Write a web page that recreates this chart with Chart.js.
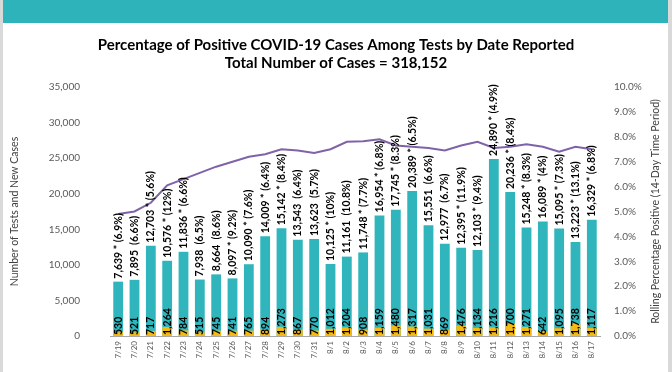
<!DOCTYPE html>
<html><head><meta charset="utf-8">
<script src="https://cdn.jsdelivr.net/npm/chart.js@4.4.1/dist/chart.umd.min.js"></script>
<style>
html,body{margin:0;padding:0;background:#fff;}
#wrap{position:relative;width:672px;height:372px;overflow:hidden;background:#fff;}
#band{position:absolute;left:0;top:0;width:672px;height:23px;background:#2fb3bb;}
#lb{position:absolute;left:0;top:0;width:3px;height:372px;background:#d9d9d9;}
#rb{position:absolute;right:0;top:0;width:4px;height:372px;background:#d9d9d9;}
canvas{position:absolute;left:0;top:0;}
</style></head>
<body><div id="wrap"><canvas id="c" width="672" height="372"></canvas><div id="band"></div><div id="lb"></div><div id="rb"></div></div>
<script>
const dates = ["7/19","7/20","7/21","7/22","7/23","7/24","7/25","7/26","7/27","7/28","7/29","7/30","7/31","8/1","8/2","8/3","8/4","8/5","8/6","8/7","8/8","8/9","8/10","8/11","8/12","8/13","8/14","8/15","8/16","8/17"];
const tests = [7639,7895,12703,10576,11836,7938,8664,8097,10090,14009,15142,13543,13623,10125,11161,11748,16954,17745,20389,15551,12977,12395,12103,24890,20236,15248,16089,15095,13223,16329];
const newCases = [530,521,717,1264,784,515,745,741,765,894,1273,867,770,1012,1204,908,1159,1480,1317,1031,869,1476,1134,1216,1700,1271,642,1095,1738,1117];
const dailyPct = ["6.9","6.6","5.6","12","6.6","6.5","8.6","9.2","7.6","6.4","8.4","6.4","5.7","10","10.8","7.7","6.8","8.3","6.5","6.6","6.7","11.9","9.4","4.9","8.4","8.3","4","7.3","13.1","6.8"];
const starred = [1,0,1,1,1,0,0,1,1,1,1,0,0,1,0,1,1,1,1,0,0,1,1,1,1,1,1,1,1,1];
const rolling = [4.9,5.0,5.35,6.05,6.3,6.55,6.8,7.0,7.2,7.3,7.5,7.45,7.35,7.5,7.8,7.82,7.9,7.65,7.6,7.55,7.45,7.65,7.8,7.55,7.6,7.7,7.6,7.4,7.6,7.5];
const yTicksLeft = [0,5000,10000,15000,20000,25000,30000,35000];
const yTicksRight = [0,1,2,3,4,5,6,7,8,9,10];
const rightTitle = 'Rolling Percentage Positive (14-Day Time Period)';

const FONT = "Lato, 'Liberation Sans', sans-serif";
const fmt = n => n.toLocaleString('en-US');

const labelPlugin = {
  id: 'barLabels',
  afterDatasetsDraw(chart) {
    const ctx = chart.ctx;
    const mt = chart.getDatasetMeta(2);
    const mc = chart.getDatasetMeta(1);
    ctx.save();
    ctx.fillStyle = '#000';
    ctx.textBaseline = 'middle';
    ctx.textAlign = 'left';
    ctx.font = "bold 10.5px " + FONT;
    mt.data.forEach((bar, i) => {
      const txt = fmt(tests[i]) + (starred[i] ? ' * ' : '  ') + '(' + dailyPct[i] + '%)';
      ctx.save();
      ctx.translate(bar.x, bar.y - 3);
      ctx.rotate(-Math.PI / 2);
      ctx.fillText(txt, 0, 0);
      ctx.restore();
    });
    mc.data.forEach((bar, i) => {
      ctx.save();
      ctx.translate(bar.x, bar.base - 1);
      ctx.rotate(-Math.PI / 2);
      ctx.fillText(fmt(newCases[i]), 0, 0);
      ctx.restore();
    });
    ctx.restore();
    // right axis title, reading bottom to top
    const s = chart.scales.y2;
    ctx.save();
    ctx.fillStyle = '#404040';
    ctx.font = "10.5px " + FONT;
    ctx.textAlign = 'center';
    ctx.textBaseline = 'middle';
    ctx.translate(s.right - 8, (s.top + s.bottom) / 2);
    ctx.rotate(-Math.PI / 2);
    ctx.fillText(rightTitle, 0, 0);
    ctx.restore();
  }
};

new Chart(document.getElementById('c'), {
  data: {
    labels: dates,
    datasets: [
      { type: 'line', data: rolling, yAxisID: 'y2', borderColor: '#7f62a8', borderWidth: 2, pointRadius: 0, tension: 0, order: 0 },
      { type: 'bar', data: newCases, yAxisID: 'y', backgroundColor: '#f5b914', grouped: false, barPercentage: 0.6, categoryPercentage: 1, order: 1 },
      { type: 'bar', data: tests, yAxisID: 'y', backgroundColor: '#31b5bd', grouped: false, barPercentage: 0.6, categoryPercentage: 1, order: 2 }
    ]
  },
  options: {
    responsive: false,
    animation: false,
    layout: { padding: { left: 8, right: 8, top: 0, bottom: 0 } },
    plugins: {
      legend: { display: false },
      tooltip: { enabled: false },
      title: {
        display: true,
        text: ['Percentage of Positive COVID-19 Cases Among Tests by Date Reported', 'Total Number of Cases = 318,152'],
        font: { family: FONT, size: 15, weight: 'bold', lineHeight: 1.2 },
        color: '#000',
        padding: { top: 36, bottom: 15 }
      }
    },
    scales: {
      x: {
        grid: { display: false, drawTicks: false },
        border: { display: true, color: '#a6a6a6' },
        ticks: { minRotation: 90, maxRotation: 90, padding: 5, color: '#595959', font: { family: FONT, size: 8 } },
        afterFit(s) { s.height = 35; }
      },
      y: {
        position: 'left', min: 0, max: 35000,
        grid: { display: false, drawTicks: false },
        border: { display: false },
        afterBuildTicks(s) { s.ticks = yTicksLeft.map(v => ({ value: v })); },
        ticks: { padding: 30, color: '#595959', font: { family: FONT, size: 10 }, callback: v => fmt(v) },
        title: { display: true, text: 'Number of Tests and New Cases', color: '#404040', font: { family: FONT, size: 10.5 }, padding: { top: 0, bottom: 0 } },
        afterFit(s) { s.width = 102; }
      },
      y2: {
        position: 'right', min: 0, max: 10,
        grid: { display: false, drawTicks: false },
        border: { display: false },
        afterBuildTicks(s) { s.ticks = yTicksRight.map(v => ({ value: v })); },
        ticks: { padding: 14, color: '#595959', font: { family: FONT, size: 10 }, callback: v => v.toFixed(1) + '%' },
        afterFit(s) { s.width = 64; }
      }
    }
  },
  plugins: [labelPlugin]
});
</script>
</body></html>
